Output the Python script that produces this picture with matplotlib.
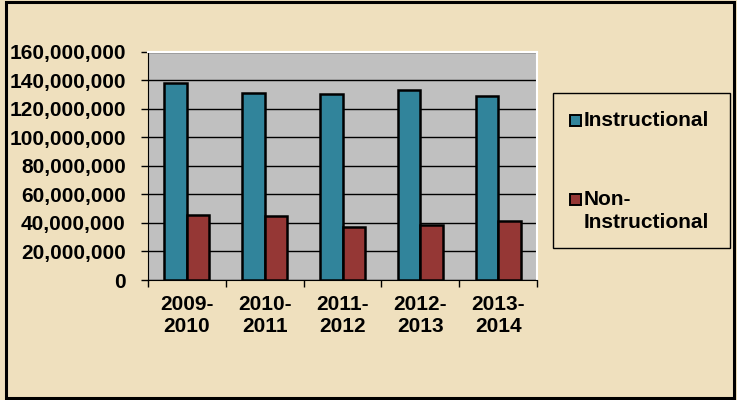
import matplotlib.pyplot as plt
from matplotlib.patches import Rectangle
from matplotlib.ticker import FuncFormatter

# Values
years = ['2009-\n2010', '2010-\n2011', '2011-\n2012', '2012-\n2013', '2013-\n2014']
instructional = [138.1e6, 131.4e6, 130.2e6, 133.5e6, 129.0e6]
non_instructional = [45.7e6, 44.6e6, 37.3e6, 38.7e6, 41.1e6]

c_instr = '#31849B'
c_non = '#953735'
bg = '#EFE0BE'

plt.rcParams['font.family'] = ['Liberation Sans', 'DejaVu Sans']
plt.rcParams['font.weight'] = 'bold'

fig = plt.figure(figsize=(7.37, 4.0), dpi=100, facecolor=bg)
ax = fig.add_axes([148 / 737, 120 / 400, 389 / 737, 228.3 / 400])
ax.set_facecolor('#C0C0C0')

w = 0.29
x = list(range(len(years)))
ax.bar([i - w / 2 for i in x], instructional, width=w, color=c_instr,
       edgecolor='black', linewidth=1.8, zorder=3)
ax.bar([i + w / 2 for i in x], non_instructional, width=w, color=c_non,
       edgecolor='black', linewidth=1.8, zorder=3)

ax.set_ylim(0, 160e6)
ax.set_yticks(range(0, 160000001, 20000000))
ax.yaxis.set_major_formatter(FuncFormatter(lambda v, p: '{:,.0f}'.format(v)))
ax.yaxis.grid(True, color='black', linewidth=1.0, zorder=1)
ax.set_xlim(-0.5, len(years) - 0.5)

# ticks at category boundaries, labels at centres
ax.set_xticks([i - 0.5 for i in range(len(years) + 1)])
ax.set_xticklabels([])
ax.set_xticks(x, minor=True)
ax.set_xticklabels(years, minor=True, fontsize=15, fontweight='bold')
ax.tick_params(axis='x', which='minor', length=0, pad=11)
ax.tick_params(axis='x', which='major', direction='out', length=5, width=1)
ax.tick_params(axis='y', direction='out', length=5, width=1, pad=11,
               labelsize=15)
for lab in ax.get_yticklabels():
    lab.set_fontweight('bold')

ax.spines['left'].set_color('black')
ax.spines['bottom'].set_color('black')
ax.spines['top'].set_color('white')
ax.spines['right'].set_color('white')
ax.spines['top'].set_linewidth(1.5)
ax.spines['right'].set_linewidth(1.5)

# legend box
fig.patches.append(Rectangle((553 / 737, 1 - 248 / 400), 177 / 737, 155 / 400,
                             transform=fig.transFigure, facecolor='none',
                             edgecolor='black', linewidth=1.0))
fig.patches.append(Rectangle((570 / 737, 1 - 126 / 400), 11 / 737, 11 / 400,
                             transform=fig.transFigure, facecolor=c_instr,
                             edgecolor='black', linewidth=1.4))
fig.patches.append(Rectangle((570 / 737, 1 - 205 / 400), 11 / 737, 11 / 400,
                             transform=fig.transFigure, facecolor=c_non,
                             edgecolor='black', linewidth=1.4))
fig.text(584 / 737, 1 - 120.5 / 400, 'Instructional', fontsize=15,
         fontweight='bold', va='center', ha='left')
fig.text(584 / 737, 1 - 199.5 / 400, 'Non-', fontsize=15,
         fontweight='bold', va='center', ha='left')
fig.text(584 / 737, 1 - 222 / 400, 'Instructional', fontsize=15,
         fontweight='bold', va='center', ha='left')

# outer frame
fig.patches.append(Rectangle((6 / 737, 2 / 400), 728 / 737, 396 / 400,
                             transform=fig.transFigure, facecolor='none',
                             edgecolor='black', linewidth=2.2))

fig.savefig('out.png', dpi=100, facecolor=bg)
